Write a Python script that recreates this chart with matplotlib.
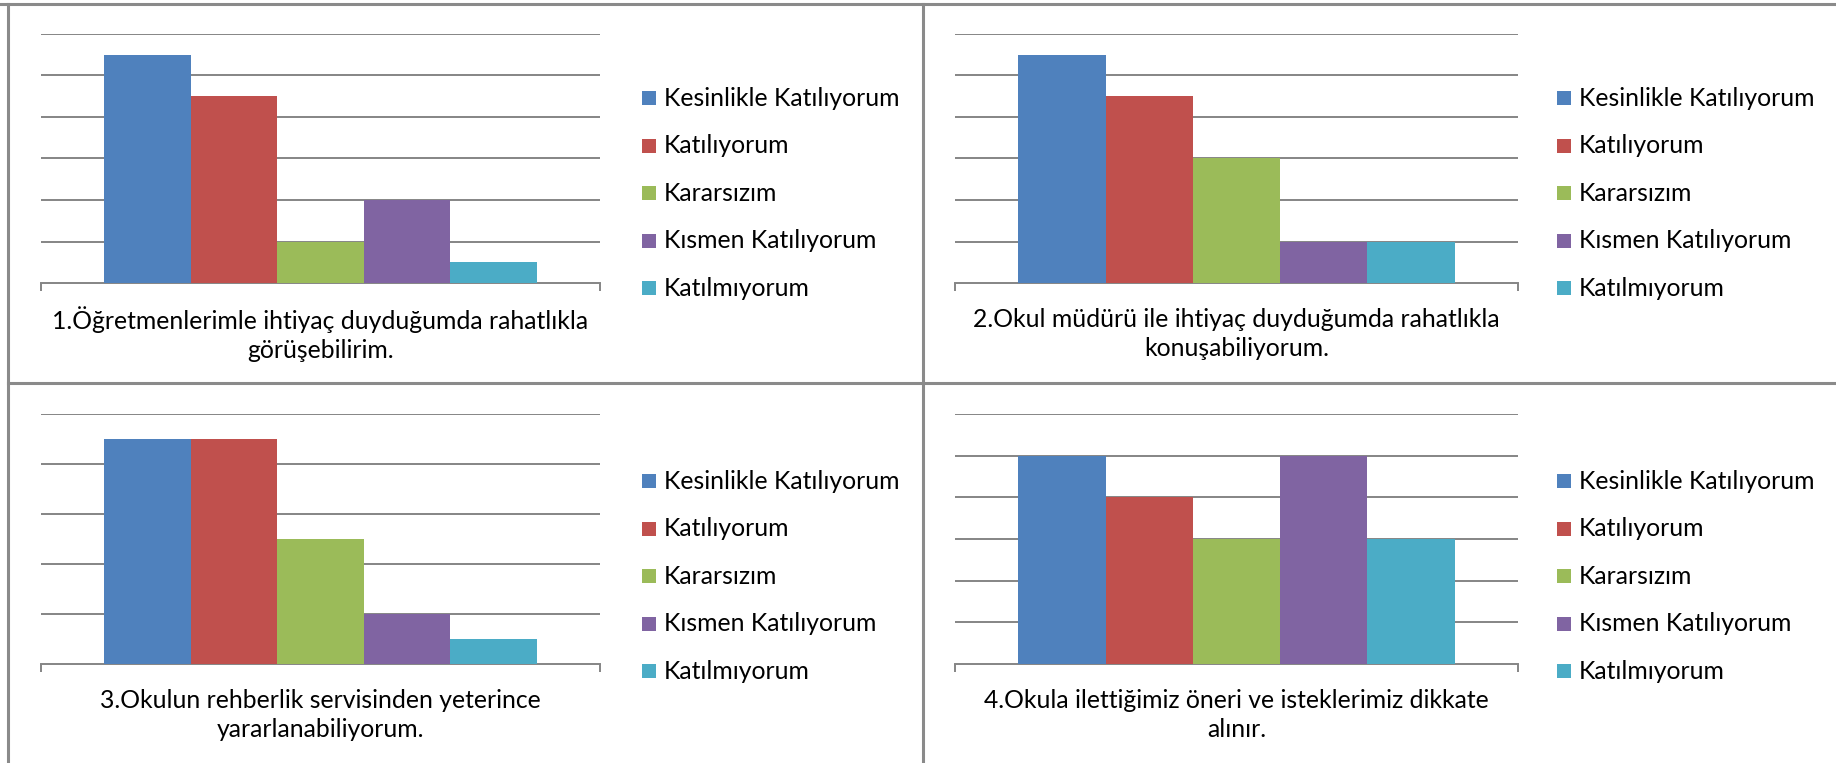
import matplotlib
matplotlib.use("Agg")
import matplotlib.pyplot as plt
from matplotlib.patches import Rectangle
from matplotlib.lines import Line2D

# ---- data ----
series = ["Kesinlikle Katılıyorum", "Katılıyorum", "Kararsızım",
          "Kısmen Katılıyorum", "Katılmıyorum"]
colors = ["#4F81BD", "#C0504D", "#9BBB59", "#8064A2", "#4BACC6"]

titles = [
    "1.Öğretmenlerimle ihtiyaç duyduğumda rahatlıkla\ngörüşebilirim.",
    "2.Okul müdürü ile ihtiyaç duyduğumda rahatlıkla\nkonuşabiliyorum.",
    "3.Okulun rehberlik servisinden yeterince\nyararlanabiliyorum.",
    "4.Okula ilettiğimiz öneri ve isteklerimiz dikkate\nalınır.",
]
values1 = [11, 9, 2, 4, 1]
values2 = [11, 9, 6, 2, 2]
values3 = [9, 9, 5, 2, 1]
values4 = [10, 8, 6, 10, 6]
all_values = [values1, values2, values3, values4]
ymax_list = [12, 12, 10, 12]
ystep = 2

W, H = 1836, 763
fig = plt.figure(figsize=(W / 100, H / 100), dpi=100)
plt.rcParams['font.family'] = ['Lato', 'DejaVu Sans']

GRID = "#858585"
FS = 17.8

# axes pixel boxes: (x0, x1, ytop, ybase)
boxes = [(41, 600, 34, 283), (955, 1518, 34, 283),
         (41, 600, 414, 664), (955, 1518, 414, 664)]
leg_offsets = [(642, 0), (1557, 0), (642, 383), (1557, 383)]

group = 0.775
bw = group / len(series)

for i, (x0, x1, yt, yb) in enumerate(boxes):
    ax = fig.add_axes([x0 / W, 1 - yb / H, (x1 - x0) / W, (yb - yt) / H])
    vals = all_values[i]
    xs = [-group / 2 + bw * (k + 0.5) for k in range(len(series))]
    ax.bar(xs, vals, width=bw, color=colors, zorder=3, linewidth=0)
    ax.set_xlim(-0.5, 0.5)
    ax.set_ylim(0, ymax_list[i])
    ax.set_yticks(list(range(ystep, ymax_list[i] + 1, ystep)))
    ax.yaxis.grid(True, color=GRID, linewidth=1.4, zorder=0)
    ax.set_axisbelow(True)
    for s in ["left", "right", "top"]:
        ax.spines[s].set_visible(False)
    ax.spines["bottom"].set_color(GRID)
    ax.spines["bottom"].set_linewidth(1.4)
    ax.tick_params(axis="y", left=False, labelleft=False)
    ax.set_xticks([-0.5, 0.5])
    ax.tick_params(axis="x", direction="out", length=6, width=1.4,
                   color=GRID, labelbottom=False)
    ax.patch.set_alpha(0)
    # category label
    fig.text(((x0 + x1) / 2) / W, 1 - (yb + 51) / H, titles[i],
             ha="center", va="center", fontsize=FS, color="#000000",
             linespacing=1.3)
    # legend
    lx, ly = leg_offsets[i]
    for k, name in enumerate(series):
        yc = ly + 98 + 47.6 * k
        fig.patches.append(Rectangle((lx / W, 1 - (yc + 7) / H), 14 / W, 14 / H,
                                     transform=fig.transFigure, color=colors[k],
                                     linewidth=0))
        fig.text((lx + 22) / W, 1 - yc / H, name, ha="left", va="center",
                 fontsize=FS, color="#000000")

# borders
BC = "#8a8a8a"
lw = 2.2
fig.add_artist(Line2D([0, 1], [1 - 4 / H, 1 - 4 / H], color=BC, lw=lw))
fig.add_artist(Line2D([8 / W, 8 / W], [0, 1 - 4 / H], color=BC, lw=lw))
fig.add_artist(Line2D([923 / W, 923 / W], [0, 1 - 4 / H], color=BC, lw=lw))
fig.add_artist(Line2D([8 / W, 1], [1 - 383 / H, 1 - 383 / H], color=BC, lw=lw))

fig.savefig("out.png", dpi=100, facecolor="white")
